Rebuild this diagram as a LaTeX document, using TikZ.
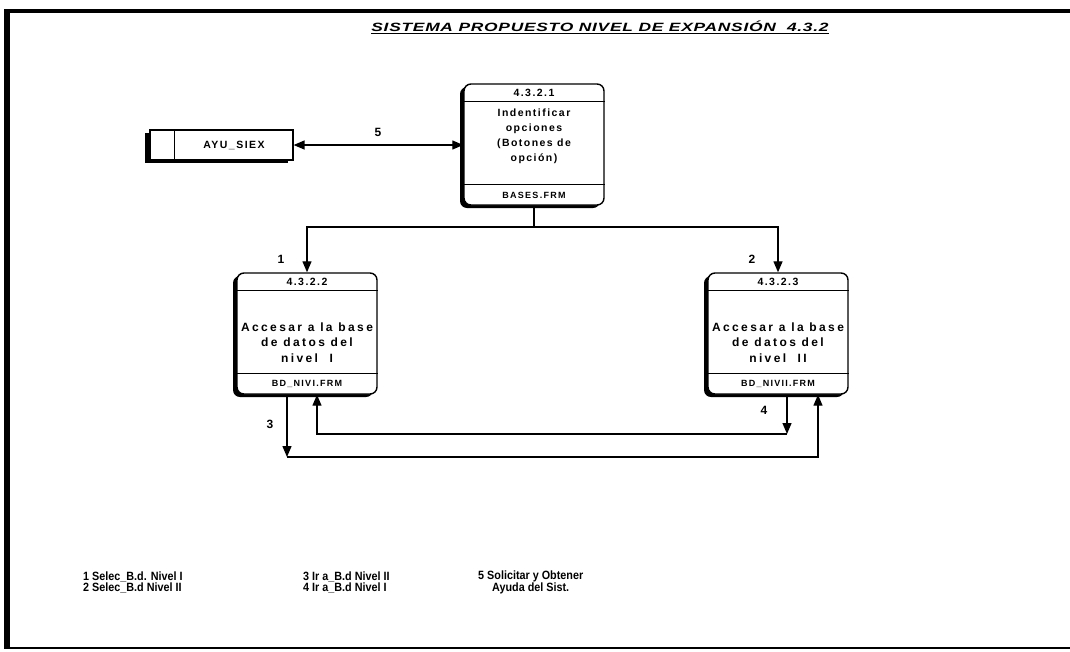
\documentclass[tikz,border=0pt]{standalone}
\usepackage{fontspec}
\setmainfont{Liberation Sans}
\newfontfamily\titlefont[FakeStretch=1.45,LetterSpace=6]{Liberation Sans}
\newfontfamily\boxfont[LetterSpace=14]{Liberation Sans}
\newfontfamily\boxwidefont[LetterSpace=20]{Liberation Sans}
\newfontfamily\legfont[FakeStretch=0.9]{Liberation Sans}
\usetikzlibrary{arrows.meta,shadows}
\tikzset{
  pbox/.style={draw, line width=1.4pt, rounded corners=7pt, fill=white,
    minimum width=140pt, minimum height=121pt, inner sep=0pt,
    drop shadow={shadow xshift=-4pt, shadow yshift=-3pt, fill=black, opacity=1}},
  storebox/.style={draw, line width=1.2pt, fill=white,
    minimum width=143pt, minimum height=30pt, inner sep=0pt,
    drop shadow={shadow xshift=-5pt, shadow yshift=-3pt, fill=black, opacity=1}},
  sep/.style={line width=1pt},
  tip/.tip={Triangle[length=11pt,width=9pt]},
  arr/.style={line width=1.3pt, -tip},
  arrboth/.style={line width=1.3pt, tip-tip},
  plain/.style={line width=1.3pt},
  hdr/.style={font=\boxfont\bfseries\fontsize{10.5}{12}\selectfont, inner sep=0pt},
  ftr/.style={font=\boxfont\bfseries\fontsize{9}{11}\selectfont, inner sep=0pt},
  body/.style={font=\boxfont\bfseries\fontsize{10.5}{15}\selectfont, align=center, inner sep=0pt},
  bodywide/.style={font=\boxwidefont\bfseries\fontsize{12}{15.5}\selectfont, align=center, inner sep=0pt},
  lbl/.style={font=\bfseries\fontsize{12}{14}\selectfont, inner sep=0pt},
  leg/.style={font=\legfont\bfseries\fontsize{12}{11.5}\selectfont, inner sep=0pt, anchor=west}
}
\begin{document}
\begin{tikzpicture}[x=1pt,y=-1pt]
\useasboundingbox (0,0) rectangle (1070,651);
% frame
\draw[line width=4pt] (6,11) -- (1070,11);
\draw[line width=6pt] (7,9) -- (7,649);
\draw[line width=2pt] (6,648) -- (1070,648);
% title
\node[font=\titlefont\bfseries\itshape\fontsize{12}{14}\selectfont, inner sep=0pt] (title) at (600,27)
  {\underline{SISTEMA PROPUESTO NIVEL DE EXPANSIÓN\ \ 4.3.2}};
% process boxes
\node[pbox] (p1) at (534,144.5) {};
\node[pbox] (p2) at (307,333.5) {};
\node[pbox] (p3) at (778,333.5) {};
\foreach \p in {p1,p2,p3}{
  \draw[sep] ([yshift=-18pt]\p.north west) -- ([yshift=-18pt]\p.north east);
  \draw[sep] ([yshift=21pt]\p.south west) -- ([yshift=21pt]\p.south east);
}
\node[hdr] (p1h) at ([yshift=-10pt]p1.north) {4.3.2.1};
\node[hdr] (p2h) at ([yshift=-10pt]p2.north) {4.3.2.2};
\node[hdr] (p3h) at ([yshift=-10pt]p3.north) {4.3.2.3};
\node[ftr] (p1f) at ([yshift=10.5pt]p1.south) {BASES.FRM};
\node[ftr] (p2f) at ([yshift=10.5pt]p2.south) {BD\_NIVI.FRM};
\node[ftr] (p3f) at ([yshift=10.5pt]p3.south) {BD\_NIVII.FRM};
\node[body] (p1b) at ([yshift=-52.5pt]p1.north) {Indentificar\\opciones\\(Botones de\\opción)};
\node[bodywide] (p2b) at ([yshift=-70pt]p2.north) {Accesar a la base\\de datos del\\nivel\ \ I};
\node[bodywide] (p3b) at ([yshift=-70pt]p3.north) {Accesar a la base\\de datos del\\nivel\ \ II};
% data store
\node[storebox] (s) at (221.5,145) {};
\draw[sep] ([xshift=25pt]s.north west) -- ([xshift=25pt]s.south west);
\node[hdr] (stxt) at (234,145) {AYU\_SIEX};
% connectors
\draw[arrboth] (s.east) -- (s.east -| p1.west);
\node[lbl] (l5) at (378,132) {5};
\coordinate (j) at (534,227);
\draw[plain] (p1.south) -- (j);
\draw[arr] (j) -| (p2.north);
\draw[arr] (j) -| (p3.north);
\node[lbl] (l1) at (281,259) {1};
\node[lbl] (l2) at (752,259) {2};
% lower loop connectors
\coordinate (c3a) at (287,457);
\coordinate (c3b) at (818,457);
\coordinate (c4a) at (787,434);
\coordinate (c4b) at (317,434);
\draw[arr] (p2.south -| c3a) -- (c3a);
\draw[arr] (c3a) -- (c3b) -- (p3.south -| c3b);
\draw[arr] (p3.south -| c4a) -- (c4a);
\draw[arr] (c4a) -- (c4b) -- (p2.south -| c4b);
\node[lbl] (l3) at (270,424) {3};
\node[lbl] (l4) at (764,410) {4};
% legend
\node[leg, align=left] (lg1) at (83,582.5) {1 Selec\_B.d. Nivel I\\2 Selec\_B.d Nivel II};
\node[leg, align=left] (lg2) at (303,582.5) {3 Ir a\_B.d Nivel II\\4 Ir a\_B.d Nivel I};
\node[leg, align=center] (lg3) at (478,582.5) {5 Solicitar y Obtener\\Ayuda del Sist.};
\end{tikzpicture}
\end{document}
